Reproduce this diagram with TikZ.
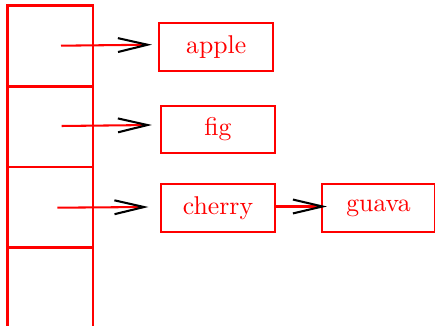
\documentclass[tikz,border=0pt]{standalone}
\usetikzlibrary{arrows.meta}
\begin{document}
\begin{tikzpicture}[x=0.389pt,y=-0.389pt,
  redline/.style={draw=red,line width=0.8pt},
  cellbox/.style={redline},
  itembox/.style={redline,text=red,rectangle,inner sep=0pt,
    minimum width=44.3pt,minimum height=18.6pt},
  link/.style={redline,-{Straight Barb[length=11.5pt,width=5.4pt,color=black,line width=0.8pt]}}]
\useasboundingbox (0,0) rectangle (435,326);

% the array of slots (open at the bottom)
\draw[cellbox] (7.5,326) -- (7.5,5.5) -- (93,5.5) -- (93,326);
\draw[cellbox] (7.5,86.5) -- (93,86.5);
\draw[cellbox] (7.5,167) -- (93,167);
\draw[cellbox] (7.5,247.5) -- (93,247.5);

% list items
\node[itembox] (apple)  at (216.2,46.7)  {apple};
\node[itembox] (fig)    at (218,129.5)   {fig};
\node[itembox] (cherry) at (218,208)     {cherry};
\node[itembox,minimum width=43.6pt] (guava) at (378.5,208) {guava};

% pointers out of the slots
\coordinate (s1) at (61,45.7);
\coordinate (s2) at (61.7,126);
\coordinate (s3) at (57.3,207.7);
\coordinate (t1) at (152,44.7);
\coordinate (t2) at (152,125);
\coordinate (t3) at (148.5,207);
\coordinate (t4) at (327,206.5);

\draw[link] (s1) -- (t1);
\draw[link] (s2) -- (t2);
\draw[link] (s3) -- (t3);
\draw[link] (cherry.east |- t4) -- (t4);
\end{tikzpicture}
\end{document}
